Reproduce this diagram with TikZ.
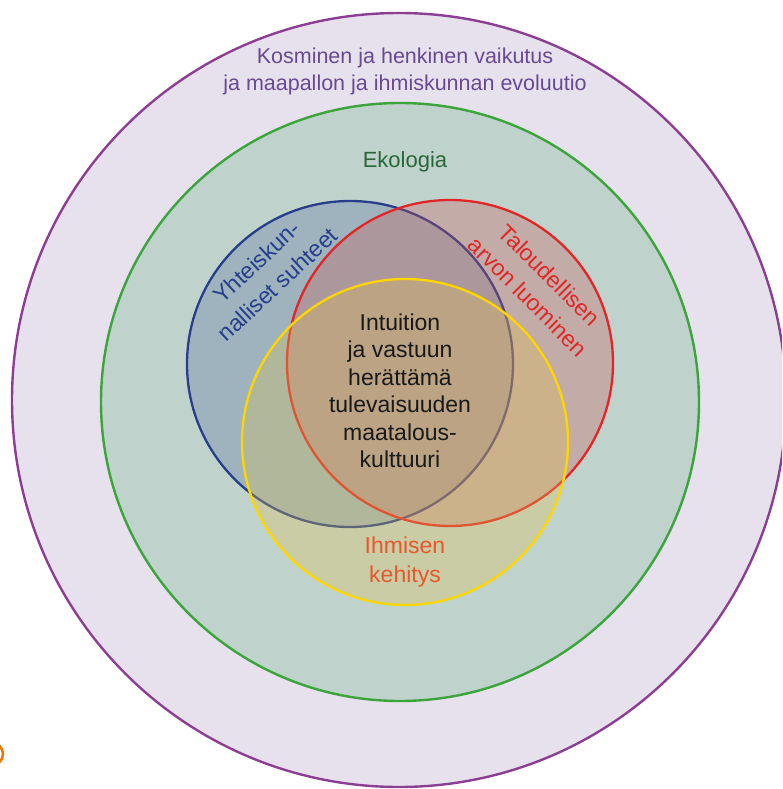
\documentclass[tikz,border=0pt]{standalone}
\usepackage{fontspec}
\setmainfont{Liberation Sans}
\usepackage{tikz}
\usepackage{xcolor}
\usetikzlibrary{shapes, positioning}

\definecolor{cosmosfill}{RGB}{231,225,238}
\definecolor{cosmosline}{RGB}{140,62,146}
\definecolor{cosmostext}{RGB}{104,74,146}
\definecolor{ecofill}{RGB}{192,210,204}
\definecolor{ecoline}{RGB}{59,164,59}
\definecolor{ecotext}{RGB}{40,104,56}
\definecolor{socfill}{RGB}{80,110,160}
\definecolor{socline}{RGB}{40,62,140}
\definecolor{ecnfill}{RGB}{205,87,84}
\definecolor{ecnline}{RGB}{226,38,40}
\definecolor{humfill}{RGB}{222,193,77}
\definecolor{humline}{RGB}{255,214,0}
\definecolor{humtext}{RGB}{232,88,46}
\definecolor{marker}{RGB}{240,120,0}

\begin{document}
\begin{tikzpicture}[x=1pt, y=-1pt,
    ring/.style={circle, draw, inner sep=0pt, line width=2.4pt},
    venn/.style={circle, draw, inner sep=0pt, line width=2.3pt, minimum size=326pt, fill opacity=0.3, draw opacity=1},
    lbl/.style={align=center, font=\fontsize{23}{28}\selectfont},
    arclbl/.style={align=center, inner sep=1pt, font=\fontsize{23}{30.5}\selectfont}]
        \useasboundingbox (0, 0) rectangle (782, 789);
        \clip (0, 0) rectangle (782, 789);

        \node[ring, draw=cosmosline, fill=cosmosfill, minimum size=774pt] (cosmos) at (399, 400) {};
        \node[ring, draw=ecoline, fill=ecofill, minimum size=598pt] (eco) at (400, 402) {};

        \node[venn, draw=socline, fill=socfill] (soc) at (350, 364) {};
        \node[venn, draw=ecnline, fill=ecnfill] (ecn) at (450, 363) {};
        \node[venn, draw=humline, fill=humfill] (hum) at (405, 442) {};

        \node[ring, draw=marker, line width=2.6pt, minimum size=22pt] (mark) at (-8, 754) {};

        \node[lbl, text=cosmostext, font=\fontsize{21.5}{27}\selectfont] (cosmoslbl) at (405, 71)
            {Kosminen ja henkinen vaikutus\\ja maapallon ja ihmiskunnan evoluutio};
        \node[lbl, text=ecotext, font=\fontsize{22}{27}\selectfont] (ecolbl) at (405, 162) {Ekologia};
        \node[arclbl, text=socline, rotate=43] (soclbl) at (267, 273) {Yhteiskun-\\nalliset suhteet};
        \node[arclbl, text=ecnline, rotate=-45] (ecnlbl) at (539, 286) {Taloudellisen\\arvon luominen};
        \node[lbl, text=humtext, font=\fontsize{23}{29}\selectfont] (humlbl) at (405, 562) {Ihmisen\\kehitys};
        \node[lbl, text=black!90, font=\fontsize{23}{27.5}\selectfont] (core) at (400, 391)
            {Intuition\\ja vastuun\\herättämä\\tulevaisuuden\\maatalous-\\kulttuuri};
    \end{tikzpicture}
\end{document}
